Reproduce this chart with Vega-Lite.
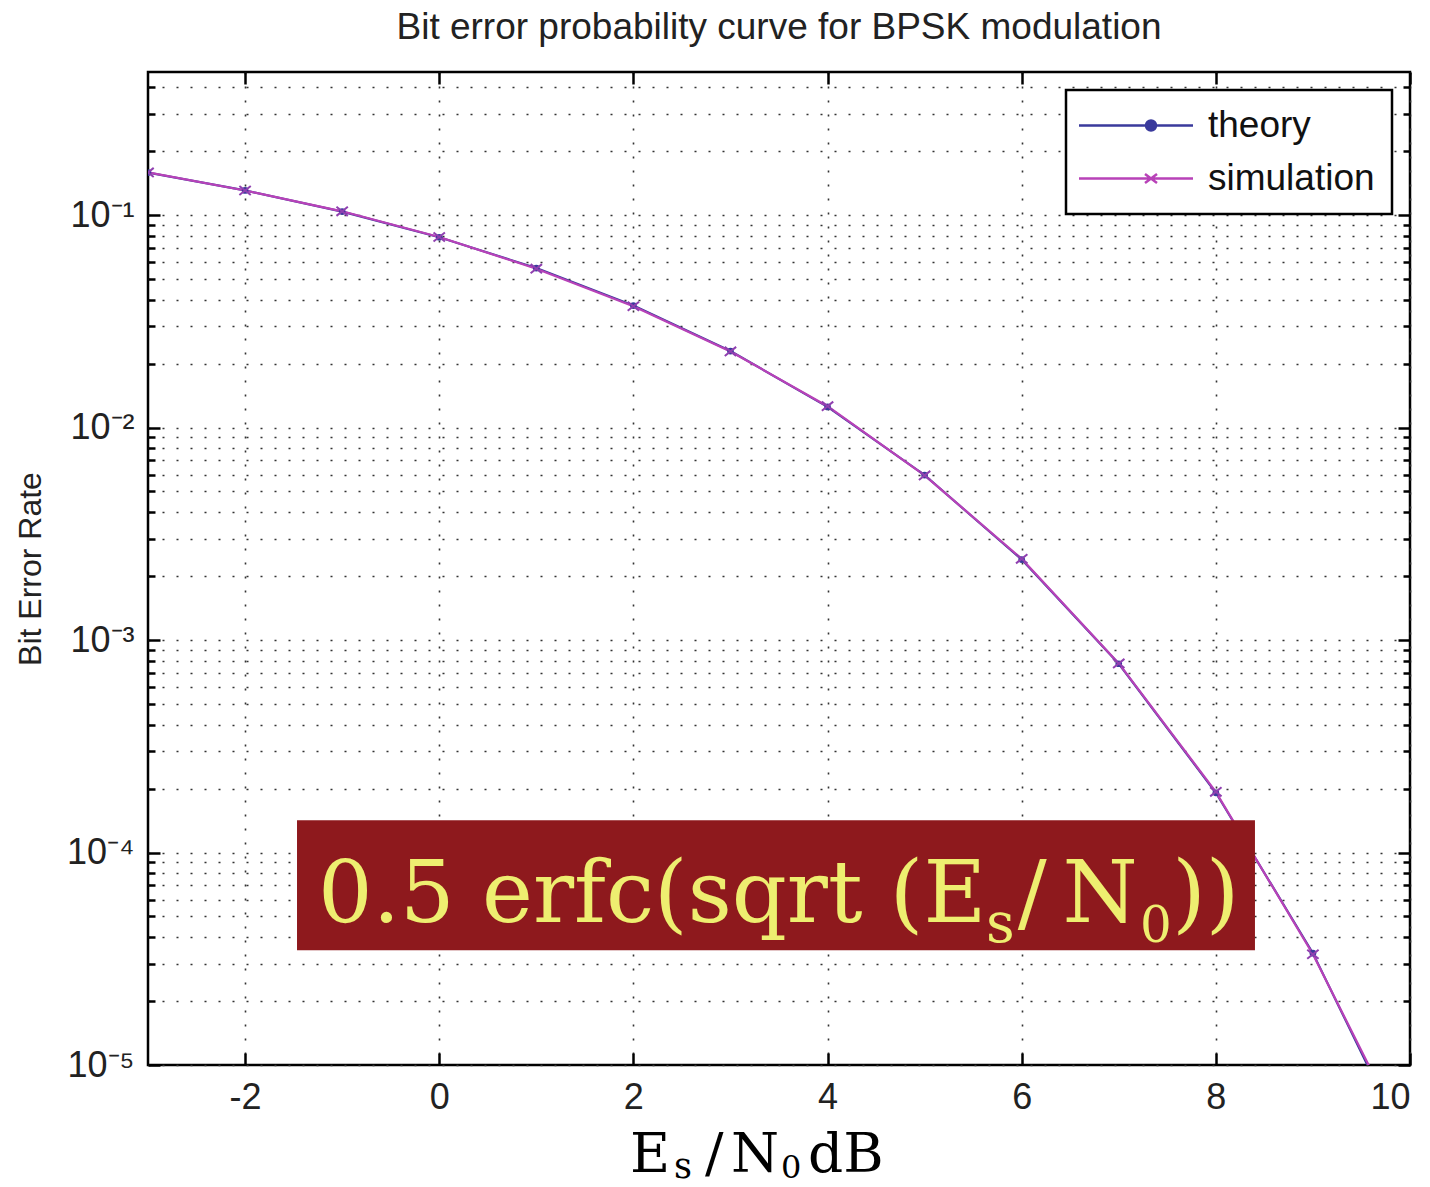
{
  "$schema": "https://vega.github.io/schema/vega-lite/v6.json",
  "width": 1262,
  "height": 993,
  "autosize": {"type": "none"},
  "padding": {"left": 148, "top": 72, "right": 20, "bottom": 122},
  "background": "white",
  "config": {
    "view": {"stroke": "black", "strokeWidth": 2.5},
    "font": "Liberation Sans",
    "legend": {"strokeWidth": 2.5}
  },
  "title": {
    "text": "Bit error probability curve for BPSK modulation",
    "fontSize": 37,
    "fontWeight": "normal",
    "font": "Liberation Sans",
    "color": "#222222",
    "offset": 24
  },
  "datasets": {
    "ber": [
      {"snr": -3, "ber": 0.1584, "series": "theory"},
      {"snr": -2, "ber": 0.1306, "series": "theory"},
      {"snr": -1, "ber": 0.1038, "series": "theory"},
      {"snr": 0, "ber": 0.0786, "series": "theory"},
      {"snr": 1, "ber": 0.0563, "series": "theory"},
      {"snr": 2, "ber": 0.0375, "series": "theory"},
      {"snr": 3, "ber": 0.0229, "series": "theory"},
      {"snr": 4, "ber": 0.0125, "series": "theory"},
      {"snr": 5, "ber": 0.00597, "series": "theory"},
      {"snr": 6, "ber": 0.00239, "series": "theory"},
      {"snr": 7, "ber": 0.000773, "series": "theory"},
      {"snr": 8, "ber": 0.000191, "series": "theory"},
      {"snr": 9, "ber": 0.0000336, "series": "theory"},
      {"snr": 10, "ber": 0.00000387, "series": "theory"},
      {"snr": -3, "ber": 0.1586, "series": "simulation"},
      {"snr": -2, "ber": 0.1304, "series": "simulation"},
      {"snr": -1, "ber": 0.1041, "series": "simulation"},
      {"snr": 0, "ber": 0.0788, "series": "simulation"},
      {"snr": 1, "ber": 0.0559, "series": "simulation"},
      {"snr": 2, "ber": 0.0372, "series": "simulation"},
      {"snr": 3, "ber": 0.0228, "series": "simulation"},
      {"snr": 4, "ber": 0.0126, "series": "simulation"},
      {"snr": 5, "ber": 0.00595, "series": "simulation"},
      {"snr": 6, "ber": 0.00241, "series": "simulation"},
      {"snr": 7, "ber": 0.000776, "series": "simulation"},
      {"snr": 8, "ber": 0.000193, "series": "simulation"},
      {"snr": 9, "ber": 0.0000332, "series": "simulation"},
      {"snr": 10, "ber": 0.0000041, "series": "simulation"}
    ],
    "one": [{}]
  },
  "data": {"name": "ber"},
  "resolve": {"axis": {"x": "independent", "y": "independent"}},
  "layer": [
    {
      "mark": {"type": "line", "clip": true, "strokeWidth": 2.2},
      "encoding": {
        "x": {
          "field": "snr", "type": "quantitative",
          "scale": {"domain": [-3, 10], "nice": false, "zero": false},
          "axis": {
            "values": [-2, 0, 2, 4, 6, 8, 10],
            "labelExpr": "datum.value < 0 ? '-' + abs(datum.value) : '' + datum.value",
            "grid": true, "gridDash": [2, 12], "gridColor": "#333333", "gridWidth": 1.6,
            "domain": false,
            "tickSize": -12, "tickWidth": 2.5, "tickColor": "black",
            "labelFontSize": 36, "labelColor": "#222222", "labelPadding": 27,
            "labelFont": "Liberation Sans",
            "title": null
          }
        },
        "y": {
          "field": "ber", "type": "quantitative",
          "scale": {"type": "log", "domain": [0.00001, 0.471], "nice": false},
          "axis": {
            "values": [0.00001, 0.00002, 0.00003, 0.00004, 0.00005, 0.00006, 0.00007, 0.00008, 0.00009,
                       0.0001, 0.0002, 0.0003, 0.0004, 0.0005, 0.0006, 0.0007, 0.0008, 0.0009,
                       0.001, 0.002, 0.003, 0.004, 0.005, 0.006, 0.007, 0.008, 0.009,
                       0.01, 0.02, 0.03, 0.04, 0.05, 0.06, 0.07, 0.08, 0.09,
                       0.1, 0.2, 0.3, 0.4],
            "labelExpr": "abs(log(datum.value)/LN10 - round(log(datum.value)/LN10)) < 0.01 ? ('10⁻' + (round(-log(datum.value)/LN10) == 1 ? '¹' : round(-log(datum.value)/LN10) == 2 ? '²' : round(-log(datum.value)/LN10) == 3 ? '³' : round(-log(datum.value)/LN10) == 4 ? '⁴' : '⁵')) : ''",
            "grid": true, "gridDash": [2, 12], "gridColor": "#333333", "gridWidth": 1.6,
            "domain": false,
            "tickSize": {"condition": {"test": "abs(log(datum.value)/LN10 - round(log(datum.value)/LN10)) < 0.01", "value": -12}, "value": -7},
            "tickWidth": 2.5, "tickColor": "black",
            "labelFontSize": 36, "labelColor": "#222222", "labelPadding": 26,
            "labelFont": "Liberation Sans",
            "title": "Bit Error Rate",
            "titleFont": "Liberation Sans", "titleFontSize": 32, "titleFontWeight": "normal",
            "titleColor": "#222222", "titlePadding": 19
          }
        },
        "color": {
          "field": "series", "type": "nominal",
          "scale": {"domain": ["theory", "simulation"], "range": ["#3a3a9c", "#b842b8"]},
          "legend": {
            "title": null,
            "orient": "top-right",
            "offset": 18,
            "fillColor": "white",
            "strokeColor": "black",
            "padding": 17,
            "rowPadding": 15,
            "labelFontSize": 37,
            "labelFont": "Liberation Sans",
            "labelColor": "#111111",
            "labelOffset": 88,
            "labelLimit": 400,
            "symbolType": "stroke",
            "symbolSize": 900,
            "symbolStrokeWidth": 2.5,
            "encode": {
              "symbols": {
                "update": {
                  "shape": {"signal": "datum.value === 'theory' ? 'M-1.5,0H6.1M2.967,0A0.333,0.333,0,1,0,3.633,0A0.333,0.333,0,1,0,2.967,0Z' : 'M-1.5,0H6.1M2.9,-0.3L3.7,0.3M3.7,-0.3L2.9,0.3'"},
                  "fill": {"signal": "datum.value === 'theory' ? '#3a3a9c' : 'transparent'"}
                }
              }
            }
          }
        }
      }
    },
    {
      "transform": [{"filter": "datum.series === 'theory'"}],
      "mark": {"type": "point", "clip": true, "filled": true, "size": 45, "color": "#3a3a9c", "opacity": 1},
      "encoding": {
        "x": {
          "field": "snr", "type": "quantitative",
          "axis": {
            "orient": "top", "values": [-2, 0, 2, 4, 6, 8, 10], "labels": false, "grid": false,
            "domain": false, "tickSize": -12, "tickWidth": 2.5, "tickColor": "black", "title": null
          }
        },
        "y": {
          "field": "ber", "type": "quantitative",
          "axis": {
            "orient": "right",
            "values": [0.00001, 0.00002, 0.00003, 0.00004, 0.00005, 0.00006, 0.00007, 0.00008, 0.00009,
                       0.0001, 0.0002, 0.0003, 0.0004, 0.0005, 0.0006, 0.0007, 0.0008, 0.0009,
                       0.001, 0.002, 0.003, 0.004, 0.005, 0.006, 0.007, 0.008, 0.009,
                       0.01, 0.02, 0.03, 0.04, 0.05, 0.06, 0.07, 0.08, 0.09,
                       0.1, 0.2, 0.3, 0.4],
            "labels": false, "grid": false, "domain": false,
            "tickSize": {"condition": {"test": "abs(log(datum.value)/LN10 - round(log(datum.value)/LN10)) < 0.01", "value": -12}, "value": -7},
            "tickWidth": 2.5, "tickColor": "black", "title": null
          }
        }
      }
    },
    {
      "transform": [{"filter": "datum.series === 'simulation'"}],
      "mark": {"type": "point", "clip": true, "filled": false, "size": 130, "strokeWidth": 2, "color": "#9040b0", "opacity": 1, "shape": "M-1,-0.8L1,0.8M1,-0.8L-1,0.8"},
      "encoding": {
        "x": {"field": "snr", "type": "quantitative", "axis": null},
        "y": {"field": "ber", "type": "quantitative", "axis": null}
      }
    },
    {
      "data": {"name": "one"},
      "mark": {"type": "rect", "color": "#8e191d"},
      "encoding": {
        "x": {"datum": -1.465, "type": "quantitative", "axis": null},
        "x2": {"datum": 8.403},
        "y": {"datum": 0.000142, "type": "quantitative", "axis": null},
        "y2": {"datum": 0.0000347}
      }
    },
    {
      "data": {"name": "one"},
      "mark": {"type": "text", "font": "DejaVu Serif", "fontSize": 86, "color": "#eeee70", "align": "left", "baseline": "alphabetic"},
      "encoding": {
        "x": {"datum": -1.249, "type": "quantitative", "axis": null},
        "y": {"datum": 0.00004709, "type": "quantitative", "axis": null},
        "text": {"value": "0.5 erfc(sqrt (E"}
      }
    },
    {
      "data": {"name": "one"},
      "mark": {"type": "text", "font": "DejaVu Serif", "fontSize": 56, "color": "#eeee70", "align": "left", "baseline": "alphabetic"},
      "encoding": {
        "x": {"datum": 5.632, "type": "quantitative", "axis": null},
        "y": {"datum": 0.00003791, "type": "quantitative", "axis": null},
        "text": {"value": "s"}
      }
    },
    {
      "data": {"name": "one"},
      "mark": {"type": "text", "font": "DejaVu Serif", "fontSize": 86, "color": "#eeee70", "align": "left", "baseline": "alphabetic"},
      "encoding": {
        "x": {"datum": 5.96, "type": "quantitative", "axis": null},
        "y": {"datum": 0.00004709, "type": "quantitative", "axis": null},
        "text": {"value": "/"}
      }
    },
    {
      "data": {"name": "one"},
      "mark": {"type": "text", "font": "DejaVu Serif", "fontSize": 86, "color": "#eeee70", "align": "left", "baseline": "alphabetic"},
      "encoding": {
        "x": {"datum": 6.42, "type": "quantitative", "axis": null},
        "y": {"datum": 0.00004709, "type": "quantitative", "axis": null},
        "text": {"value": "N"}
      }
    },
    {
      "data": {"name": "one"},
      "mark": {"type": "text", "font": "DejaVu Serif", "fontSize": 50, "color": "#eeee70", "align": "left", "baseline": "alphabetic"},
      "encoding": {
        "x": {"datum": 7.219, "type": "quantitative", "axis": null},
        "y": {"datum": 0.00003791, "type": "quantitative", "axis": null},
        "text": {"value": "0"}
      }
    },
    {
      "data": {"name": "one"},
      "mark": {"type": "text", "font": "DejaVu Serif", "fontSize": 86, "color": "#eeee70", "align": "left", "baseline": "alphabetic"},
      "encoding": {
        "x": {"datum": 7.55, "type": "quantitative", "axis": null},
        "y": {"datum": 0.00004709, "type": "quantitative", "axis": null},
        "text": {"value": "))"}
      }
    },
    {
      "data": {"name": "one"},
      "mark": {"type": "text", "font": "DejaVu Serif", "fontSize": 55, "color": "black", "align": "left", "baseline": "alphabetic"},
      "encoding": {
        "x": {"datum": 1.965, "type": "quantitative", "axis": null},
        "y": {"datum": 0.000003136, "type": "quantitative", "axis": null},
        "text": {"value": "E"}
      }
    },
    {
      "data": {"name": "one"},
      "mark": {"type": "text", "font": "DejaVu Serif", "fontSize": 35, "color": "black", "align": "left", "baseline": "alphabetic"},
      "encoding": {
        "x": {"datum": 2.418, "type": "quantitative", "axis": null},
        "y": {"datum": 0.000002938, "type": "quantitative", "axis": null},
        "text": {"value": "s"}
      }
    },
    {
      "data": {"name": "one"},
      "mark": {"type": "text", "font": "DejaVu Serif", "fontSize": 55, "color": "black", "align": "left", "baseline": "alphabetic"},
      "encoding": {
        "x": {"datum": 2.738, "type": "quantitative", "axis": null},
        "y": {"datum": 0.000003136, "type": "quantitative", "axis": null},
        "text": {"value": "/"}
      }
    },
    {
      "data": {"name": "one"},
      "mark": {"type": "text", "font": "DejaVu Serif", "fontSize": 55, "color": "black", "align": "left", "baseline": "alphabetic"},
      "encoding": {
        "x": {"datum": 3.006, "type": "quantitative", "axis": null},
        "y": {"datum": 0.000003136, "type": "quantitative", "axis": null},
        "text": {"value": "N"}
      }
    },
    {
      "data": {"name": "one"},
      "mark": {"type": "text", "font": "DejaVu Serif", "fontSize": 32, "color": "black", "align": "left", "baseline": "alphabetic"},
      "encoding": {
        "x": {"datum": 3.521, "type": "quantitative", "axis": null},
        "y": {"datum": 0.000002938, "type": "quantitative", "axis": null},
        "text": {"value": "0"}
      }
    },
    {
      "data": {"name": "one"},
      "mark": {"type": "text", "font": "DejaVu Serif", "fontSize": 55, "color": "black", "align": "left", "baseline": "alphabetic"},
      "encoding": {
        "x": {"datum": 3.8, "type": "quantitative", "axis": null},
        "y": {"datum": 0.000003136, "type": "quantitative", "axis": null},
        "text": {"value": "dB"}
      }
    }
  ]
}
